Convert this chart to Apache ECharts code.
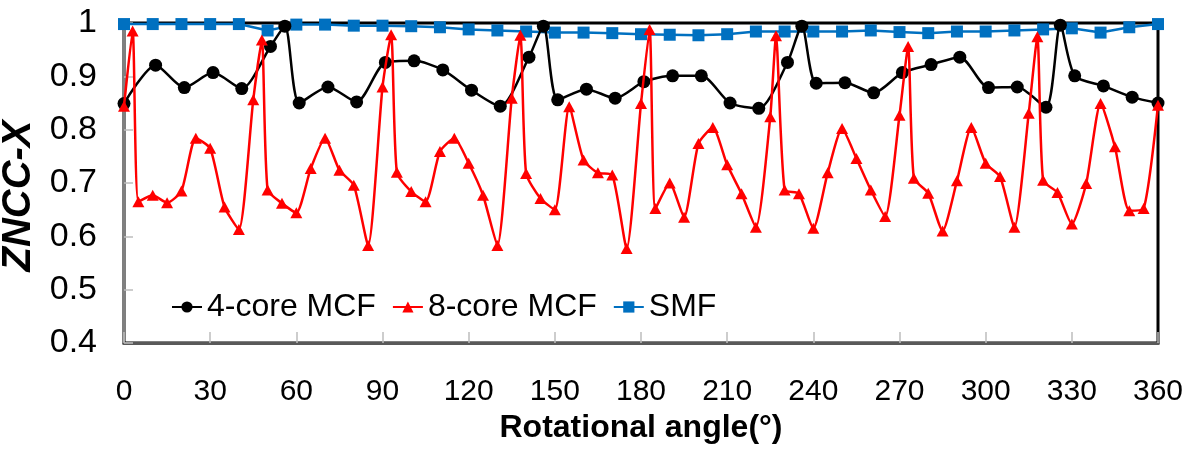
<!DOCTYPE html>
<html>
<head>
<meta charset="utf-8">
<script src="https://cdn.jsdelivr.net/npm/echarts@6/dist/echarts.min.js"></script>
<style>
  html, body { margin: 0; padding: 0; background: #fff; }
  #echarts_main { width: 1197px; height: 457px; }
</style>
</head>
<body>
<div id="echarts_main"></div>
<script>
// 4-core MCF
var angle4 = [0,11,21,31,41,51,56,61,71,81,91,101,111,121,131,141,146,151,161,171,181,191,201,211,221,231,236,241,251,261,271,281,291,301,311,321,326,331,341,351,360];
var zncc4 = [0.849,0.921,0.879,0.907,0.877,0.956,0.994,0.850,0.880,0.852,0.926,0.929,0.912,0.874,0.844,0.936,0.994,0.856,0.876,0.859,0.890,0.901,0.901,0.850,0.840,0.926,0.994,0.887,0.888,0.869,0.907,0.922,0.936,0.879,0.880,0.842,0.996,0.901,0.882,0.861,0.850];
// 8-core MCF
var angle8 = [0,3,5,10,15,20,25,30,35,40,45,48,50,55,60,65,70,75,80,85,90,93,95,100,105,110,115,120,125,130,135,138,140,145,150,155,160,165,170,175,180,183,185,190,195,200,205,210,215,220,225,227,230,235,240,245,250,255,260,265,270,273,275,280,285,290,295,300,305,310,315,318,320,325,330,335,340,345,350,355,360];
var zncc8 = [0.844,0.985,0.665,0.677,0.663,0.685,0.784,0.765,0.655,0.613,0.856,0.968,0.687,0.662,0.644,0.727,0.784,0.724,0.696,0.583,0.880,0.978,0.720,0.684,0.665,0.759,0.784,0.737,0.677,0.583,0.859,0.977,0.718,0.671,0.650,0.843,0.743,0.719,0.715,0.577,0.849,0.988,0.652,0.700,0.636,0.774,0.804,0.734,0.680,0.617,0.824,0.976,0.687,0.680,0.615,0.719,0.802,0.746,0.687,0.637,0.827,0.956,0.709,0.681,0.610,0.704,0.804,0.737,0.712,0.617,0.831,0.974,0.705,0.682,0.623,0.699,0.849,0.768,0.648,0.652,0.846];
// SMF
var angleS = [0,10,20,30,40,50,60,70,80,90,100,110,120,130,140,150,160,170,180,190,200,210,220,230,240,250,260,270,280,290,300,310,320,330,340,350,360];
var znccS = [0.998,0.998,0.998,0.998,0.998,0.986,0.997,0.997,0.995,0.995,0.994,0.992,0.988,0.986,0.984,0.982,0.982,0.981,0.979,0.978,0.977,0.979,0.984,0.984,0.984,0.984,0.986,0.983,0.981,0.984,0.984,0.986,0.988,0.990,0.982,0.992,0.998];

var legendNames = ['4-core MCF', '8-core MCF', 'SMF'];

function pairs(xs, ys) {
  return xs.map(function (x, i) { return [x, ys[i]]; });
}

var font = "'Liberation Sans', Arial, sans-serif";
var myChart = echarts.init(document.getElementById('echarts_main'));
myChart.setOption({
  animation: false,
  backgroundColor: '#fff',
  textStyle: { fontFamily: font },
  grid: {
    left: 124, right: 39, top: 23, bottom: 114,
    outerBoundsMode: 'none', containLabel: false,
    show: true, borderColor: '#000', borderWidth: 3, backgroundColor: 'transparent'
  },
  legend: {
    data: legendNames,
    left: 166,
    top: 286,
    itemWidth: 30,
    itemHeight: 14,
    itemGap: 16,
    textStyle: { fontSize: 32, color: '#000', fontFamily: font }
  },
  xAxis: {
    type: 'value',
    min: 0, max: 360, interval: 30,
    name: 'Rotational angle(°)',
    nameLocation: 'middle',
    nameGap: 62,
    nameTextStyle: { fontSize: 32, fontWeight: 'bold', color: '#000', fontFamily: font },
    axisLine: { show: true, onZero: false, lineStyle: { color: '#595959', width: 3 } },
    axisTick: { show: true, inside: true, length: 11, lineStyle: { color: '#bdbdbd', width: 1.5 } },
    axisLabel: { fontSize: 30, color: '#000', margin: 34, fontFamily: font },
    splitLine: { show: false }
  },
  yAxis: {
    type: 'value',
    min: 0.4, max: 1, interval: 0.1,
    name: 'ZNCC-X',
    nameLocation: 'middle',
    nameGap: 78,
    nameTextStyle: { fontSize: 40, fontWeight: 'bold', fontStyle: 'italic', color: '#000', fontFamily: font, padding: [0, 26, 0, 0] },
    axisLine: { show: true, onZero: false, lineStyle: { color: '#808080', width: 2 } },
    axisTick: { show: true, inside: true, length: 9, lineStyle: { color: '#bdbdbd', width: 1.5 } },
    axisLabel: { fontSize: 34, color: '#000', margin: 27, fontFamily: font },
    splitLine: { show: false }
  },
  series: [
    {
      name: 'SMF',
      type: 'line',
      data: pairs(angleS, znccS),
      symbol: 'rect',
      symbolSize: 12,
      color: '#0070c0',
      lineStyle: { width: 2.5, color: '#0070c0' },
      itemStyle: { color: '#0070c0' },
      z: 2
    },
    {
      name: '4-core MCF',
      type: 'line',
      data: pairs(angle4, zncc4),
      smooth: 0.25,
      symbol: 'circle',
      symbolSize: 13,
      color: '#000',
      lineStyle: { width: 2.5, color: '#000' },
      itemStyle: { color: '#000' },
      z: 3
    },
    {
      name: '8-core MCF',
      type: 'line',
      data: pairs(angle8, zncc8),
      smooth: 0.2,
      symbol: 'triangle',
      symbolSize: [12, 11],
      color: '#ff0000',
      lineStyle: { width: 2.5, color: '#ff0000' },
      itemStyle: { color: '#ff0000' },
      z: 4
    }
  ]
});
</script>
</body>
</html>
